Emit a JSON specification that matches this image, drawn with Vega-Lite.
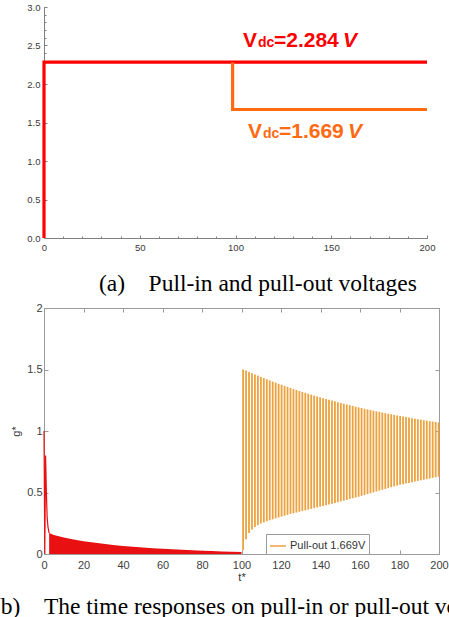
{
  "$schema": "https://vega.github.io/schema/vega-lite/v6.json",
  "background": "white",
  "padding": {"left": -8, "right": -64, "top": 2, "bottom": 0},
  "spacing": 6,
  "resolve": {"scale": {"color": "independent"}, "legend": {"color": "independent"}},
  "config": {
    "font": "Liberation Sans",
    "axis": {"grid": false, "labelFont": "Liberation Sans", "titleFont": "Liberation Sans"}
  },
  "datasets": {
    "steps": [
      {"series": "in", "i": 0, "t": 0, "v": 0},
      {"series": "in", "i": 1, "t": 0, "v": 2.284},
      {"series": "in", "i": 2, "t": 200, "v": 2.284},
      {"series": "out", "i": 0, "t": 98.5, "v": 2.284},
      {"series": "out", "i": 1, "t": 98.5, "v": 1.669},
      {"series": "out", "i": 2, "t": 200, "v": 1.669}
    ],
    "labels": [
      {"series": "in", "t": 103.9, "v": 2.48, "eq": "=2.284"},
      {"series": "out", "t": 106.5, "v": 1.30, "eq": "=1.669"}
    ],
    "redstart": [
      {"t": 0, "g": 1.0}, {"t": 0.4, "g": 0.0}, {"t": 0.8, "g": 0.8}, {"t": 1.2, "g": 0.5},
      {"t": 1.6, "g": 0.3}, {"t": 2.0, "g": 0.22}, {"t": 2.6, "g": 0.17}
    ],
    "redband": [
      {"t": 2.6, "lo": 0, "hi": 0.17}, {"t": 5, "lo": 0, "hi": 0.155}, {"t": 10, "lo": 0, "hi": 0.135},
      {"t": 15, "lo": 0, "hi": 0.118}, {"t": 20, "lo": 0, "hi": 0.104}, {"t": 25, "lo": 0, "hi": 0.093},
      {"t": 30, "lo": 0, "hi": 0.083}, {"t": 35, "lo": 0, "hi": 0.074}, {"t": 40, "lo": 0, "hi": 0.066},
      {"t": 45, "lo": 0, "hi": 0.059}, {"t": 50, "lo": 0, "hi": 0.053}, {"t": 55, "lo": 0, "hi": 0.047},
      {"t": 60, "lo": 0, "hi": 0.042}, {"t": 65, "lo": 0, "hi": 0.038}, {"t": 70, "lo": 0, "hi": 0.034},
      {"t": 75, "lo": 0, "hi": 0.030}, {"t": 80, "lo": 0, "hi": 0.027}, {"t": 85, "lo": 0, "hi": 0.024},
      {"t": 90, "lo": 0, "hi": 0.021}, {"t": 95, "lo": 0, "hi": 0.019}, {"t": 100, "lo": 0, "hi": 0.017}
    ],
    "pullout": [
      {"s": "Pull-out 1.669V", "t": 100.8, "lo": 0.03, "hi": 1.501}, {"s": "Pull-out 1.669V", "t": 102.3, "lo": 0.12, "hi": 1.491},
      {"s": "Pull-out 1.669V", "t": 103.8, "lo": 0.17, "hi": 1.480}, {"s": "Pull-out 1.669V", "t": 105.3, "lo": 0.20, "hi": 1.470},
      {"s": "Pull-out 1.669V", "t": 106.8, "lo": 0.22, "hi": 1.460}, {"s": "Pull-out 1.669V", "t": 108.3, "lo": 0.235, "hi": 1.450},
      {"s": "Pull-out 1.669V", "t": 109.8, "lo": 0.248, "hi": 1.440}, {"s": "Pull-out 1.669V", "t": 111.3, "lo": 0.257, "hi": 1.430},
      {"s": "Pull-out 1.669V", "t": 112.8, "lo": 0.266, "hi": 1.421}, {"s": "Pull-out 1.669V", "t": 114.3, "lo": 0.274, "hi": 1.412},
      {"s": "Pull-out 1.669V", "t": 115.8, "lo": 0.282, "hi": 1.402}, {"s": "Pull-out 1.669V", "t": 117.3, "lo": 0.290, "hi": 1.393},
      {"s": "Pull-out 1.669V", "t": 118.8, "lo": 0.297, "hi": 1.384}, {"s": "Pull-out 1.669V", "t": 120.3, "lo": 0.304, "hi": 1.376},
      {"s": "Pull-out 1.669V", "t": 121.8, "lo": 0.311, "hi": 1.367}, {"s": "Pull-out 1.669V", "t": 123.3, "lo": 0.318, "hi": 1.359},
      {"s": "Pull-out 1.669V", "t": 124.8, "lo": 0.325, "hi": 1.350}, {"s": "Pull-out 1.669V", "t": 126.3, "lo": 0.331, "hi": 1.342},
      {"s": "Pull-out 1.669V", "t": 127.8, "lo": 0.337, "hi": 1.334}, {"s": "Pull-out 1.669V", "t": 129.3, "lo": 0.343, "hi": 1.326},
      {"s": "Pull-out 1.669V", "t": 130.8, "lo": 0.349, "hi": 1.318}, {"s": "Pull-out 1.669V", "t": 132.3, "lo": 0.355, "hi": 1.311},
      {"s": "Pull-out 1.669V", "t": 133.8, "lo": 0.361, "hi": 1.303}, {"s": "Pull-out 1.669V", "t": 135.3, "lo": 0.367, "hi": 1.296},
      {"s": "Pull-out 1.669V", "t": 136.8, "lo": 0.373, "hi": 1.288}, {"s": "Pull-out 1.669V", "t": 138.3, "lo": 0.379, "hi": 1.281},
      {"s": "Pull-out 1.669V", "t": 139.8, "lo": 0.385, "hi": 1.274}, {"s": "Pull-out 1.669V", "t": 141.3, "lo": 0.391, "hi": 1.267},
      {"s": "Pull-out 1.669V", "t": 142.8, "lo": 0.397, "hi": 1.260}, {"s": "Pull-out 1.669V", "t": 144.3, "lo": 0.403, "hi": 1.254},
      {"s": "Pull-out 1.669V", "t": 145.8, "lo": 0.409, "hi": 1.247}, {"s": "Pull-out 1.669V", "t": 147.3, "lo": 0.415, "hi": 1.241},
      {"s": "Pull-out 1.669V", "t": 148.8, "lo": 0.421, "hi": 1.234}, {"s": "Pull-out 1.669V", "t": 150.3, "lo": 0.428, "hi": 1.228},
      {"s": "Pull-out 1.669V", "t": 151.8, "lo": 0.434, "hi": 1.222}, {"s": "Pull-out 1.669V", "t": 153.3, "lo": 0.440, "hi": 1.216},
      {"s": "Pull-out 1.669V", "t": 154.8, "lo": 0.447, "hi": 1.210}, {"s": "Pull-out 1.669V", "t": 156.3, "lo": 0.453, "hi": 1.204},
      {"s": "Pull-out 1.669V", "t": 157.8, "lo": 0.460, "hi": 1.198}, {"s": "Pull-out 1.669V", "t": 159.3, "lo": 0.466, "hi": 1.192},
      {"s": "Pull-out 1.669V", "t": 160.8, "lo": 0.473, "hi": 1.187}, {"s": "Pull-out 1.669V", "t": 162.3, "lo": 0.480, "hi": 1.181},
      {"s": "Pull-out 1.669V", "t": 163.8, "lo": 0.487, "hi": 1.176}, {"s": "Pull-out 1.669V", "t": 165.3, "lo": 0.494, "hi": 1.171},
      {"s": "Pull-out 1.669V", "t": 166.8, "lo": 0.501, "hi": 1.165}, {"s": "Pull-out 1.669V", "t": 168.3, "lo": 0.508, "hi": 1.160},
      {"s": "Pull-out 1.669V", "t": 169.8, "lo": 0.515, "hi": 1.155}, {"s": "Pull-out 1.669V", "t": 171.3, "lo": 0.522, "hi": 1.150},
      {"s": "Pull-out 1.669V", "t": 172.8, "lo": 0.529, "hi": 1.145}, {"s": "Pull-out 1.669V", "t": 174.3, "lo": 0.536, "hi": 1.140},
      {"s": "Pull-out 1.669V", "t": 175.8, "lo": 0.543, "hi": 1.136}, {"s": "Pull-out 1.669V", "t": 177.3, "lo": 0.550, "hi": 1.131},
      {"s": "Pull-out 1.669V", "t": 178.8, "lo": 0.556, "hi": 1.126}, {"s": "Pull-out 1.669V", "t": 180.3, "lo": 0.562, "hi": 1.122},
      {"s": "Pull-out 1.669V", "t": 181.8, "lo": 0.567, "hi": 1.117}, {"s": "Pull-out 1.669V", "t": 183.3, "lo": 0.573, "hi": 1.113},
      {"s": "Pull-out 1.669V", "t": 184.8, "lo": 0.578, "hi": 1.109}, {"s": "Pull-out 1.669V", "t": 186.3, "lo": 0.583, "hi": 1.104},
      {"s": "Pull-out 1.669V", "t": 187.8, "lo": 0.589, "hi": 1.100}, {"s": "Pull-out 1.669V", "t": 189.3, "lo": 0.594, "hi": 1.096},
      {"s": "Pull-out 1.669V", "t": 190.8, "lo": 0.599, "hi": 1.092}, {"s": "Pull-out 1.669V", "t": 192.3, "lo": 0.604, "hi": 1.088},
      {"s": "Pull-out 1.669V", "t": 193.8, "lo": 0.609, "hi": 1.084}, {"s": "Pull-out 1.669V", "t": 195.3, "lo": 0.614, "hi": 1.080},
      {"s": "Pull-out 1.669V", "t": 196.8, "lo": 0.619, "hi": 1.077}, {"s": "Pull-out 1.669V", "t": 198.3, "lo": 0.624, "hi": 1.073},
      {"s": "Pull-out 1.669V", "t": 199.8, "lo": 0.629, "hi": 1.069}
    ]
  },
  "vconcat": [
    {
      "width": 383,
      "height": 231,
      "view": {"stroke": null},
      "title": {
        "text": "(a)\u00a0\u00a0\u00a0\u00a0Pull-in and pull-out voltages",
        "orient": "bottom", "anchor": "start", "frame": "group", "dx": 55, "offset": 39,
        "baseline": "alphabetic", "font": "Liberation Serif", "fontSize": 23.5, "fontWeight": "normal", "color": "#000000"
      },
      "layer": [
        {
          "data": {"name": "steps"},
          "mark": {"type": "line", "strokeWidth": 3.2},
          "encoding": {
            "x": {
              "field": "t", "type": "quantitative", "scale": {"domain": [0, 200]},
              "axis": {
                "title": null, "labelOverlap": false, "labelFlush": false, "zindex": 0,
                "values": [0, 50, 100, 150, 200],
                "tickSize": -3, "labelPadding": 7, "domainColor": "#808080", "tickColor": "#808080",
                "labelColor": "#3a3a3a", "labelFontSize": 9.5
              }
            },
            "y": {
              "field": "v", "type": "quantitative", "scale": {"domain": [0, 3]},
              "axis": {
                "title": null, "labelOverlap": false, "zindex": 0,
                "values": [0, 0.5, 1, 1.5, 2, 2.5, 3],
                "format": ".1f",
                "tickSize": -3, "labelPadding": 7, "domainColor": "#808080", "tickColor": "#808080",
                "labelColor": "#3a3a3a", "labelFontSize": 9.5
              }
            },
            "color": {"field": "series", "type": "nominal", "scale": {"domain": ["in", "out"], "range": ["#FF0000", "#FF6A13"]}, "legend": null},
            "order": {"field": "i"}
          }
        },
        {
          "data": {"name": "labels"},
          "mark": {"type": "text", "align": "left", "baseline": "alphabetic", "fontSize": 21, "fontWeight": "bold", "text": "V"},
          "encoding": {
            "x": {
              "field": "t", "type": "quantitative",
              "axis": {"orient": "top", "offset": -231, "title": null, "labels": false, "domain": false, "tickSize": 2, "tickColor": "#808080", "zindex": 0,
                       "values": [10,20,30,40,50,60,70,80,90,100,110,120,130,140,150,160,170,180,190,200]}
            },
            "y": {
              "field": "v", "type": "quantitative",
              "axis": {"orient": "right", "offset": -383, "title": null, "labels": false, "domain": false, "tickSize": 2, "tickColor": "#808080", "zindex": 0,
                       "values": [2.4,2.5,2.6,2.7,2.8,2.9,3]}
            },
            "color": {"field": "series", "type": "nominal", "legend": null}
          }
        },
        {
          "data": {"name": "labels"},
          "mark": {"type": "text", "align": "left", "baseline": "alphabetic", "fontSize": 14, "fontWeight": "bold", "dx": 15, "text": "dc"},
          "encoding": {
            "x": {"field": "t", "type": "quantitative", "axis": null},
            "y": {"field": "v", "type": "quantitative", "axis": null},
            "color": {"field": "series", "type": "nominal", "legend": null}
          }
        },
        {
          "data": {"name": "labels"},
          "mark": {"type": "text", "align": "left", "baseline": "alphabetic", "fontSize": 21, "fontWeight": "bold", "dx": 31},
          "encoding": {
            "x": {"field": "t", "type": "quantitative", "axis": null},
            "y": {"field": "v", "type": "quantitative", "axis": null},
            "text": {"field": "eq"},
            "color": {"field": "series", "type": "nominal", "legend": null}
          }
        },
        {
          "data": {"name": "labels"},
          "mark": {"type": "text", "align": "left", "baseline": "alphabetic", "fontSize": 21, "fontWeight": "bold", "fontStyle": "italic", "dx": 100, "text": "V"},
          "encoding": {
            "x": {"field": "t", "type": "quantitative", "axis": null},
            "y": {"field": "v", "type": "quantitative", "axis": null},
            "color": {"field": "series", "type": "nominal", "legend": null}
          }
        }
      ],
      "resolve": {"axis": {"x": "independent", "y": "independent"}}
    },
    {
      "width": 395,
      "height": 246,
      "view": {"stroke": "#9a9a9a", "strokeWidth": 1},
      "title": {
        "text": "(b)\u00a0\u00a0\u00a0\u00a0The time responses on pull-in or pull-out voltages",
        "orient": "bottom", "anchor": "start", "frame": "group", "dx": -51, "offset": 32,
        "baseline": "alphabetic", "font": "Liberation Serif", "fontSize": 23.5, "fontWeight": "normal", "color": "#000000"
      },
      "layer": [
        {
          "data": {"name": "redband"},
          "mark": {"type": "area", "color": "#E81010"},
          "encoding": {
            "x": {
              "field": "t", "type": "quantitative", "scale": {"domain": [0, 200]},
              "axis": {
                "title": "t*", "titleFontSize": 11, "titleFontWeight": "normal", "titleColor": "#333333", "titlePadding": 1,
                "labelOverlap": false, "labelFlush": false,
                "values": [0,20,40,60,80,100,120,140,160,180,200],
                "tickSize": -4, "labelPadding": 9, "domainColor": "#9a9a9a", "tickColor": "#9a9a9a",
                "labelColor": "#404040", "labelFontSize": 11
              }
            },
            "y": {
              "field": "hi", "type": "quantitative", "scale": {"domain": [0, 2]},
              "axis": {
                "title": "g*", "titleFontSize": 11, "titleFontWeight": "normal", "titleColor": "#333333", "titlePadding": 5,
                "labelOverlap": false, "format": "~g",
                "values": [0, 0.5, 1, 1.5, 2],
                "tickSize": -4, "labelPadding": 6, "domainColor": "#9a9a9a", "tickColor": "#9a9a9a",
                "labelColor": "#404040", "labelFontSize": 11
              }
            },
            "y2": {"field": "lo"}
          }
        },
        {
          "data": {"name": "redstart"},
          "mark": {"type": "line", "color": "#E81010", "strokeWidth": 1.2},
          "encoding": {
            "x": {"field": "t", "type": "quantitative", "axis": null},
            "y": {"field": "g", "type": "quantitative", "axis": null}
          }
        },
        {
          "data": {"name": "pullout"},
          "mark": {"type": "rule", "strokeWidth": 1.8},
          "encoding": {
            "x": {
              "field": "t", "type": "quantitative",
              "axis": {"orient": "top", "title": null, "labels": false, "values": [0,20,40,60,80,100,120,140,160,180,200], "tickSize": -4, "domainColor": "#9a9a9a", "tickColor": "#9a9a9a"}
            },
            "y": {
              "field": "lo", "type": "quantitative",
              "axis": {"orient": "right", "title": null, "labels": false, "values": [0, 0.5, 1, 1.5, 2], "tickSize": -4, "domainColor": "#9a9a9a", "tickColor": "#9a9a9a"}
            },
            "y2": {"field": "hi"},
            "color": {
              "field": "s", "type": "nominal",
              "scale": {"range": ["#EBA23F"]},
              "legend": {
                "title": null, "orient": "none", "legendX": 222, "legendY": 226,
                "symbolType": "stroke", "symbolSize": 256, "symbolStrokeWidth": 1.5,
                "strokeColor": "#9a9a9a", "fillColor": "white", "padding": 3,
                "labelFontSize": 11, "labelColor": "#333333", "labelFont": "Liberation Sans", "labelOffset": 3
              }
            }
          }
        }
      ],
      "resolve": {"axis": {"x": "independent", "y": "independent"}}
    }
  ]
}
